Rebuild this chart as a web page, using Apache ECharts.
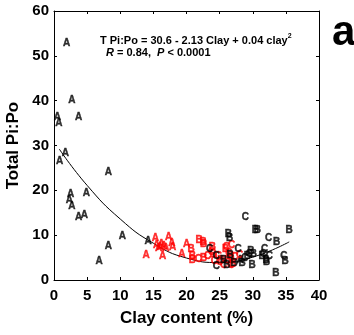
<!DOCTYPE html>
<html><head><meta charset="utf-8">
<script src="https://cdn.jsdelivr.net/npm/echarts@6/dist/echarts.min.js"></script>
<style>html,body{margin:0;padding:0;background:#fff}#c{width:354px;height:335px}</style>
</head><body><div id="c"></div>
<script>
// x-axis ticks / y-axis ticks
const xTicks = [0, 5, 10, 15, 20, 25, 30, 35, 40];
const yTicks = [0, 10, 20, 30, 40, 50, 60];

// [clay %, Total Pi:Po]
const blackA = [[1.9,52.8],[2.7,40.1],[3.7,36.2],[0.5,36.3],[0.75,34.9],[1.7,28.3],[0.85,26.4],[8.2,24.1],[2.5,19.1],[4.9,19.3],[2.3,17.8],[2.7,16.5],[3.7,13.9],[4.6,14.5],[10.3,9.7],[8.2,7.6],[6.8,4.2],[14.2,8.6],[28.1,4.4]];
const redA = [[13.9,5.6],[15.3,9.3],[15.5,7.8],[16.0,7.2],[16.4,5.4],[16.6,7.6],[16.9,7.0],[17.3,9.5],[17.8,8.2],[17.9,7.4],[19.3,5.7],[20.0,8.0],[16.2,8.0],[15.8,7.0]];
const redB = [[20.7,6.8],[21.9,8.8],[22.5,8.5],[22.6,7.9],[20.9,5.2],[20.9,4.5],[22.6,4.8],[23.9,7.2],[25.9,6.8],[26.7,5.3],[27.0,3.5],[25.2,4.5],[24.0,5.8],[26.2,4.3]];
const redC = [[21.8,4.6],[23.8,6.1],[24.2,4.1],[25.0,4.0],[26.0,7.3],[26.8,7.8],[26.4,6.0],[27.3,5.0],[25.6,3.3],[26.7,3.2],[28.0,5.5],[23.2,5.2],[24.8,5.3]];
const blackB = [[26.3,10.2],[26.5,9.3],[25.6,4.3],[26.6,5.6],[26.1,3.3],[27.2,3.7],[30.4,11.0],[30.7,11.0],[33.6,8.4],[35.5,11.2],[29.7,6.5],[29.9,3.2],[30.1,5.8],[32.0,4.5],[32.1,4.0],[33.5,1.5],[34.9,4.2],[29.2,5.4],[28.4,3.8],[31.4,5.3]];
const blackC = [[23.5,6.8],[24.5,5.2],[24.5,3.1],[27.8,6.8],[28.9,14.0],[32.4,9.4],[28.8,4.8],[31.8,6.8],[31.6,5.8],[32.5,5.2],[34.7,5.4],[29.5,5.8]];
// fitted curve
const fitCurve = [[0.8,29.2],[5,21.1],[10,13.6],[15,8.2],[20,4.9],[25,3.9],[30,5.1],[35.5,8.5]];

const FONT = 'Liberation Sans, Arial, sans-serif';
function letterSeries(data, letter, color) {
  return {
    type: 'scatter', data: data, symbol: 'circle', symbolSize: 1,
    itemStyle: { color: 'rgba(0,0,0,0)' }, z: 3,
    label: { show: true, position: 'inside', formatter: letter, color: color,
      fontFamily: FONT, fontWeight: 'bold', fontSize: 10,
      textBorderColor: color, textBorderWidth: 0.4 },
    emphasis: { disabled: true }
  };
}
const axisCommon = {
  type: 'value',
  axisLine: { show: true, onZero: false, lineStyle: { color: '#000', width: 1 } },
  axisTick: { show: true, inside: true, length: 3, lineStyle: { color: '#000' } },
  splitLine: { show: false }
};
const chart = echarts.init(document.getElementById('c'));
chart.setOption({
  animation: false,
  grid: { left: 54, right: 35, top: 11, bottom: 55, outerBoundsMode: 'none', containLabel: false },
  xAxis: [
    Object.assign({}, axisCommon, { min: xTicks[0], max: xTicks[xTicks.length-1], interval: 5, position: 'bottom',
      name: 'Clay content (%)', nameLocation: 'middle', nameGap: 30,
      nameTextStyle: { fontFamily: FONT, fontWeight: 'bold', fontSize: 17, color: '#000' },
      axisLabel: { margin: 8, fontFamily: FONT, fontWeight: 'bold', fontSize: 15, color: '#000' } }),
    Object.assign({}, axisCommon, { min: xTicks[0], max: xTicks[xTicks.length-1], interval: 5, position: 'top',
      axisLabel: { show: false } })
  ],
  yAxis: [
    Object.assign({}, axisCommon, { min: yTicks[0], max: yTicks[yTicks.length-1], interval: 10, position: 'left',
      name: 'Total Pi:Po', nameLocation: 'middle', nameGap: 23,
      nameTextStyle: { fontFamily: FONT, fontWeight: 'bold', fontSize: 17, color: '#000' },
      axisLabel: { margin: 5, fontFamily: FONT, fontWeight: 'bold', fontSize: 15, color: '#000' } }),
    Object.assign({}, axisCommon, { min: yTicks[0], max: yTicks[yTicks.length-1], interval: 10, position: 'right',
      axisLabel: { show: false } })
  ],
  series: [
    { type: 'line', data: fitCurve, smooth: 0.5, symbol: 'none', z: 2,
      lineStyle: { color: '#000', width: 1 }, emphasis: { disabled: true } },
    letterSeries(blackA, 'A', '#000'),
    letterSeries(redA, 'A', '#ff0000'),
    letterSeries(redB, 'B', '#ff0000'),
    letterSeries(redC, 'C', '#ff0000'),
    letterSeries(blackB, 'B', '#000'),
    letterSeries(blackC, 'C', '#000')
  ],
  graphic: [
    { type: 'text', left: 100, top: 33, style: {
      text: '{n|T Pi:Po = 30.6 - 2.13 Clay + 0.04 clay}{s|2}',
      rich: { n: { fontFamily: FONT, fontWeight: 'bold', fontSize: 11, fill: '#000', verticalAlign: 'bottom', lineHeight: 13 },
              s: { fontFamily: FONT, fontWeight: 'bold', fontSize: 7, fill: '#000', verticalAlign: 'top', lineHeight: 13 } } } },
    { type: 'text', left: 106, top: 47, style: {
      text: '{i|R}{n| = 0.84,  }{i|P}{n| < 0.0001}',
      rich: { n: { fontFamily: FONT, fontWeight: 'bold', fontSize: 11, fill: '#000' },
              i: { fontFamily: FONT, fontWeight: 'bold', fontStyle: 'italic', fontSize: 11, fill: '#000' } } } },
    { type: 'text', left: 332, top: 12, style: { text: 'a', fontFamily: FONT, fontWeight: 'bold', fontSize: 42, fill: '#000' } }
  ]
});
</script></body></html>
